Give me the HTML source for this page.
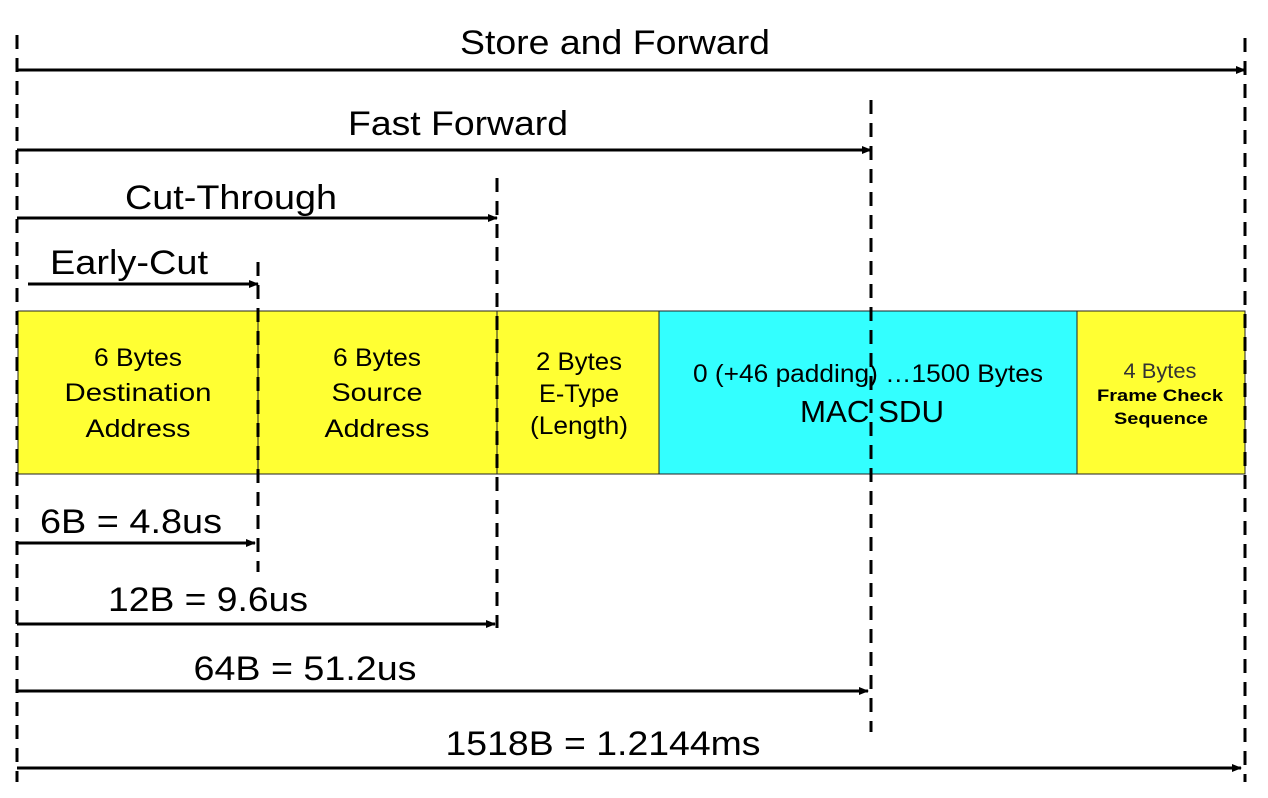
<!DOCTYPE html>
<html><head><meta charset="utf-8"><style>
html,body{margin:0;padding:0;background:#fff;}
svg{display:block;font-family:"Liberation Sans",Arial,sans-serif;}
</style></head><body>
<svg width="1268" height="798" viewBox="0 0 1268 798">
<defs>
<marker id="ah" markerWidth="10" markerHeight="8" refX="9" refY="4" orient="auto" markerUnits="userSpaceOnUse">
<path d="M0,0 L10,4 L0,8 z" fill="#000"/></marker>
</defs>
<g>
<rect x="18" y="311" width="240" height="163" fill="#ffff33" stroke="#222" stroke-width="1"/>
<rect x="258" y="311" width="239" height="163" fill="#ffff33" stroke="#222" stroke-width="1"/>
<rect x="497" y="311" width="162" height="163" fill="#ffff33" stroke="#222" stroke-width="1"/>
<rect x="659" y="311" width="418" height="163" fill="#33ffff" stroke="#222" stroke-width="1"/>
<rect x="1077" y="311" width="168" height="163" fill="#ffff33" stroke="#222" stroke-width="1"/>
</g>
<g font-size="25" text-anchor="middle" fill="#000" lengthAdjust="spacingAndGlyphs">
<text x="138" y="366" textLength="88" lengthAdjust="spacingAndGlyphs">6 Bytes</text>
<text x="138" y="401" textLength="147" lengthAdjust="spacingAndGlyphs">Destination</text>
<text x="138" y="437" textLength="105" lengthAdjust="spacingAndGlyphs">Address</text>
<text x="377" y="366" textLength="88" lengthAdjust="spacingAndGlyphs">6 Bytes</text>
<text x="377" y="401" textLength="91" lengthAdjust="spacingAndGlyphs">Source</text>
<text x="377" y="437" textLength="105" lengthAdjust="spacingAndGlyphs">Address</text>
<text x="579" y="370" textLength="86" lengthAdjust="spacingAndGlyphs">2 Bytes</text>
<text x="579" y="402" textLength="80" lengthAdjust="spacingAndGlyphs">E-Type</text>
<text x="579" y="434" textLength="98" lengthAdjust="spacingAndGlyphs">(Length)</text>
<text x="868" y="382" textLength="350" lengthAdjust="spacingAndGlyphs">0 (+46 padding) …1500 Bytes</text>
<text x="872" y="422" font-size="31" textLength="144" lengthAdjust="spacingAndGlyphs">MAC  SDU</text>
<text x="1160" y="378" font-size="21" fill="#333" textLength="73" lengthAdjust="spacingAndGlyphs">4 Bytes</text>
<text x="1160" y="401" font-size="17" font-weight="bold" textLength="126" lengthAdjust="spacingAndGlyphs">Frame Check</text>
<text x="1161" y="424" font-size="17" font-weight="bold" textLength="94" lengthAdjust="spacingAndGlyphs">Sequence</text>
</g>
<g stroke="#000" stroke-width="3" stroke-dasharray="14,9">
<line x1="17" y1="35" x2="17" y2="782"/>
<line x1="258" y1="262" x2="258" y2="572"/>
<line x1="497" y1="178" x2="497" y2="628"/>
<line x1="871" y1="100" x2="871" y2="732"/>
<line x1="1245" y1="38" x2="1245" y2="782"/>
</g>
<g stroke="#000" stroke-width="3" marker-end="url(#ah)">
<line x1="17" y1="70" x2="1245" y2="70"/>
<line x1="17" y1="150" x2="871" y2="150"/>
<line x1="17" y1="218" x2="497" y2="218"/>
<line x1="28" y1="284" x2="258" y2="284"/>
<line x1="17" y1="543" x2="255" y2="543"/>
<line x1="17" y1="624" x2="495" y2="624"/>
<line x1="17" y1="691" x2="868" y2="691"/>
<line x1="17" y1="768" x2="1241" y2="768"/>
</g>
<g font-size="34" text-anchor="middle" fill="#000">
<text x="615" y="54" textLength="310" lengthAdjust="spacingAndGlyphs">Store and Forward</text>
<text x="458" y="135" textLength="220" lengthAdjust="spacingAndGlyphs">Fast Forward</text>
<text x="231" y="209" textLength="212" lengthAdjust="spacingAndGlyphs">Cut-Through</text>
<text x="129" y="274" textLength="158" lengthAdjust="spacingAndGlyphs">Early-Cut</text>
<text x="131" y="533" textLength="182" lengthAdjust="spacingAndGlyphs">6B = 4.8us</text>
<text x="208" y="611" textLength="200" lengthAdjust="spacingAndGlyphs">12B = 9.6us</text>
<text x="305" y="680" textLength="223" lengthAdjust="spacingAndGlyphs">64B = 51.2us</text>
<text x="603" y="755" textLength="315" lengthAdjust="spacingAndGlyphs">1518B = 1.2144ms</text>
</g>
</svg>
</body></html>
